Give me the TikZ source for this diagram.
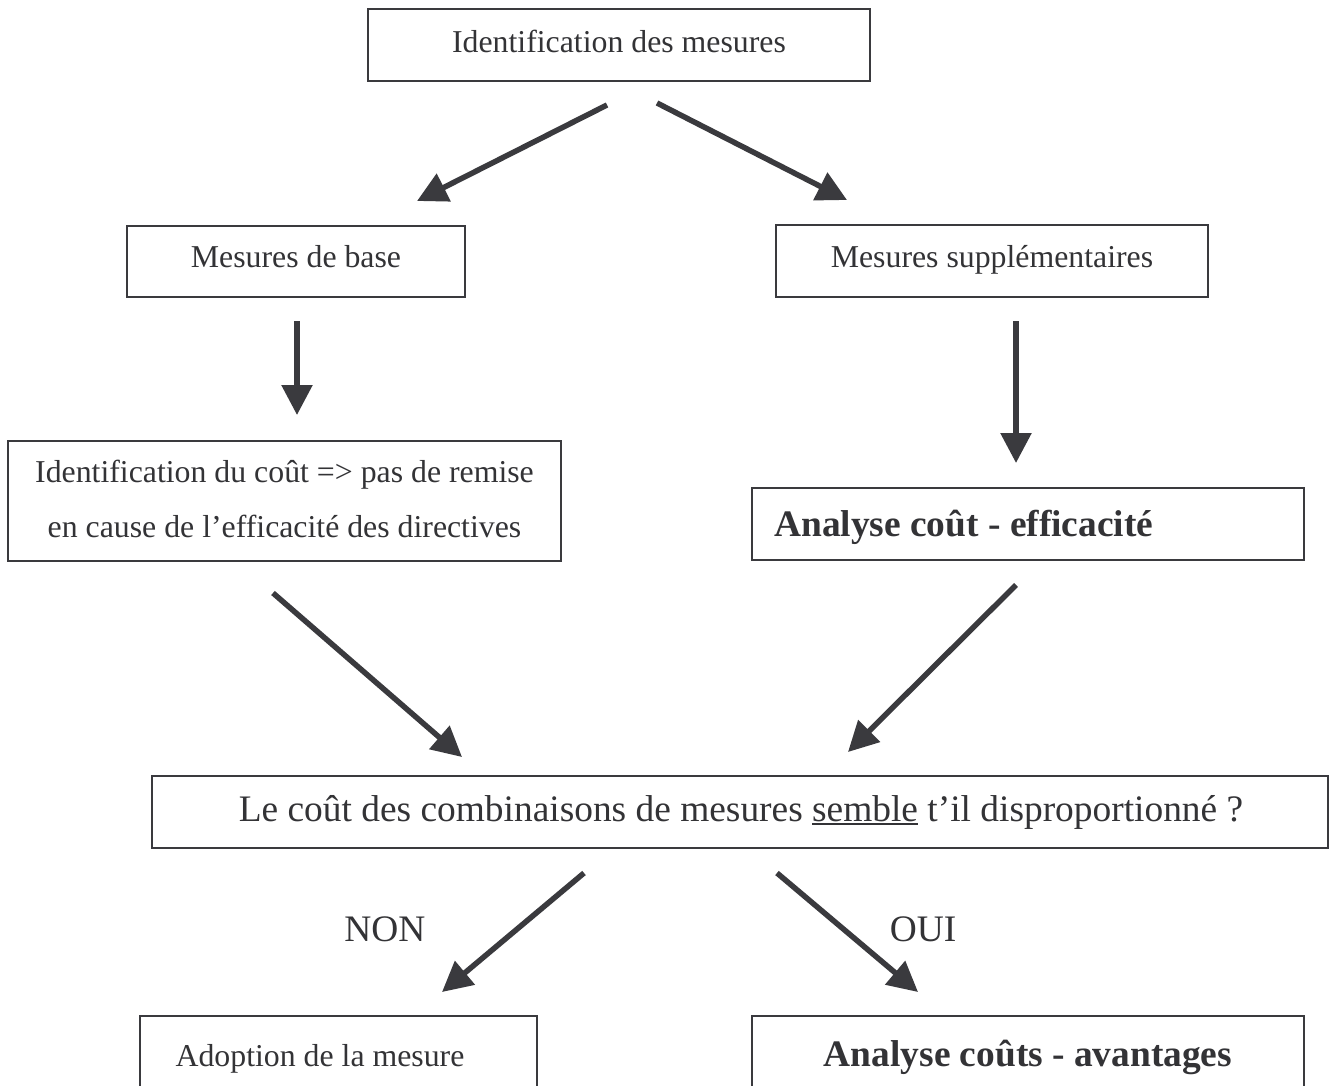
\documentclass[tikz,border=0pt]{standalone}
\usepackage{fontspec}
\setmainfont{Liberation Serif}
\usetikzlibrary{arrows.meta}
\definecolor{ink}{RGB}{51,51,54}
\definecolor{edge}{RGB}{58,58,62}
% underline drawn as a rule under the word
\newcommand\ulword[1]{\setbox0\hbox{#1}\rlap{\rule[-4pt]{\wd0}{1.8pt}}\box0\relax}

\begin{document}
\begin{tikzpicture}[x=1pt,y=-1pt,
  box/.style={draw=edge, line width=2.2pt, inner sep=0pt, rectangle},
  txt/.style={anchor=base, inner sep=0pt, text=ink, font=\fontsize{31.8}{38}\selectfont},
  big/.style={anchor=base, inner sep=0pt, text=ink, font=\fontsize{37.4}{44}\selectfont},
  arr/.style={draw=edge, line width=5.5pt, -{Triangle[length=30pt,width=30pt]}},
]
\useasboundingbox (0,0) rectangle (1330,1086);
\clip (0,0) rectangle (1330,1086);
\fill[white] (0,0) rectangle (1330,1086);

% boxes
\node[box, minimum width=502pt, minimum height=72pt] (top) at (619,45) {};
\node[box, minimum width=338pt, minimum height=71pt] (base) at (296,261.5) {};
\node[box, minimum width=432pt, minimum height=72pt] (supp) at (992,261) {};
\node[box, minimum width=553pt, minimum height=120pt] (ident) at (284.5,501) {};
\node[box, minimum width=552pt, minimum height=72pt] (cea) at (1028,524) {};
\node[box, minimum width=1176pt, minimum height=72pt] (quest) at (740,812) {};
\node[box, minimum width=397pt, minimum height=104pt] (adopt) at (338.5,1068) {};
\node[box, minimum width=552pt, minimum height=104pt] (cba) at (1028,1068) {};

% texts
\node[txt] (ttop) at (619,53) {Identification des mesures};
\node[txt] (tbase) at (296,267) {Mesures de base};
\node[txt] (tsupp) at (992,267) {Mesures supplémentaires};
\node[txt] (tid1) at (284.5,482) {Identification du coût => pas de remise};
\node[txt] (tid2) at (284.5,537) {en cause de l’efficacité des directives};
\node[big, anchor=base west] (tcea) at (774,536) {\bfseries Analyse coût - efficacité};
\node[big] (tquest) at (741,821) {Le coût des combinaisons de mesures \ulword{semble} t’il disproportionné ?};
\node[big] (tnon) at (385,941) {NON};
\node[big] (toui) at (923,941) {OUI};
\node[txt] (tadopt) at (320,1066) {Adoption de la mesure};
\node[big] (tcba) at (1028,1066) {\bfseries Analyse coûts - avantages};

% arrow end points
\coordinate (a1) at (607,105);  \coordinate (a2) at (417,201);
\coordinate (b1) at (657,103);  \coordinate (b2) at (847,200);
\coordinate (c1) at (297,321);  \coordinate (c2) at (297,415);
\coordinate (d1) at (1016,321); \coordinate (d2) at (1016,463);
\coordinate (e1) at (273,593);  \coordinate (e2) at (462,757);
\coordinate (f1) at (1016,585); \coordinate (f2) at (848,752);
\coordinate (g1) at (584,873);  \coordinate (g2) at (442,992);
\coordinate (h1) at (777,873);  \coordinate (h2) at (918,992);

\draw[arr] (a1) -- (a2);
\draw[arr] (b1) -- (b2);
\draw[arr] (c1) -- (c2);
\draw[arr] (d1) -- (d2);
\draw[arr] (e1) -- (e2);
\draw[arr] (f1) -- (f2);
\draw[arr] (g1) -- (g2);
\draw[arr] (h1) -- (h2);
\end{tikzpicture}
\end{document}
